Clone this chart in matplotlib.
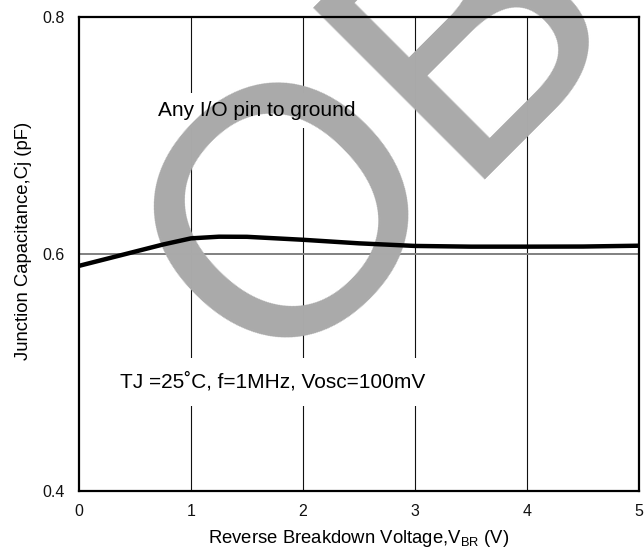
import numpy as np
import matplotlib
matplotlib.use('Agg')
import matplotlib.pyplot as plt
from matplotlib import font_manager
from matplotlib.font_manager import FontProperties
from matplotlib.textpath import TextPath

# Junction capacitance vs reverse voltage
voltage = [0.0, 0.25, 0.5, 0.75, 1.0, 1.25, 1.5, 2.0, 2.5, 3.0, 3.5, 4.0, 4.5, 5.0]
capacitance = [0.590, 0.596, 0.602, 0.608, 0.6132, 0.6146, 0.6145, 0.612, 0.609,
               0.6068, 0.6062, 0.6062, 0.6063, 0.607]

x_ticks = [0, 1, 2, 3, 4, 5]
y_ticks = [0.4, 0.6, 0.8]
y_tick_labels = ['0.4', '0.6', '0.8']

# Fonts, Arial-like
plt.rcParams['font.family'] = ['Liberation Sans', 'DejaVu Sans']
plt.rcParams['mathtext.fontset'] = 'custom'
plt.rcParams['mathtext.rm'] = 'Liberation Sans'
plt.rcParams['mathtext.it'] = 'Liberation Sans'

# Stamp face: a Helvetica-narrow clone if there is one, plain Arial clone otherwise
installed = {f.name for f in font_manager.fontManager.ttflist}
stamp_font = 'Liberation Sans'
for name in ['Nimbus Sans Narrow', 'Liberation Sans Narrow', 'Arial Narrow']:
    if name in installed:
        stamp_font = name
        break
o_ext = TextPath((0, 0), 'O', size=100, prop=FontProperties(family=stamp_font)).get_extents()

# Size the stamp so the O is ~250 px tall, and centre it where the reference has it
o_height_px = 250
size_px = 100 * o_height_px / o_ext.height
stamp_size = size_px * 72 / 100
scale = size_px / 100
cx = (o_ext.x0 + o_ext.x1) / 2 * scale
cy = (o_ext.y0 + o_ext.y1) / 2 * scale
c45 = np.cos(np.radians(45))
ox = 277 - cx * c45 + cy * c45
oy = (550 - 199) - cx * c45 - cy * c45

fig = plt.figure(figsize=(6.44, 5.5), dpi=100)
ax = fig.add_axes([79 / 644, 1 - 491 / 550, 560 / 644, 474 / 550])

# Grid: black verticals, grey horizontal at 0.6
for xv in x_ticks[1:-1]:
    ax.axvline(xv, color='#111111', lw=0.8, zorder=1)
ax.axhline(0.6, color='#808080', lw=1.4, zorder=1)

# Annotations: white boxes first (they break the grid), glyphs go on top later
notes = [(0.705, 0.7165, 'Any I/O pin to ground', 5.5),
         (0.366, 0.487, 'TJ =25\u02DAC, f=1MHz, Vosc=100mV', 10.5)]
for nx, ny, s, pad in notes:
    ax.text(nx, ny, s, fontsize=15, color='white', ha='left', va='baseline', zorder=2,
            bbox=dict(facecolor='white', edgecolor='none', pad=pad))

# OBSOLETE watermark
ax.text(ox / 644, oy / 550, 'OBSOLETE', transform=fig.transFigure,
        family=stamp_font, fontsize=stamp_size, color='#aaaaaa',
        rotation=45, rotation_mode='anchor', ha='left', va='baseline', zorder=3)

# The curve
ax.plot(voltage, capacitance, color='black', lw=3.2, solid_capstyle='butt', zorder=4)

for nx, ny, s, pad in notes:
    ax.text(nx, ny, s, fontsize=15, color='black', ha='left', va='baseline', zorder=5)

# Axes limits, ticks and labels
ax.set_xlim(0, 5)
ax.set_ylim(0.4, 0.8)
ax.set_xticks(x_ticks)
ax.set_yticks(y_ticks)
ax.set_yticklabels(y_tick_labels)
ax.tick_params(length=0, labelsize=11.5, colors='#111111')
ax.tick_params(axis='x', pad=9)
ax.tick_params(axis='y', pad=10)
for sp in ax.spines.values():
    sp.set_linewidth(1.6)
    sp.set_zorder(6)

ax.set_xlabel('Reverse Breakdown Voltage,V$_{\\mathrm{BR}}$ (V)', fontsize=13.3, labelpad=7)
ax.set_ylabel('Junction Capacitance,Cj (pF)', fontsize=13.3)
ax.yaxis.set_label_coords(-0.084, 0.527)

fig.savefig('out.png', dpi=100)
